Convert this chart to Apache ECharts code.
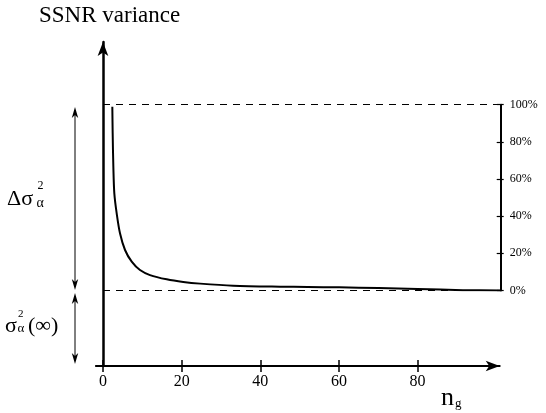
<!DOCTYPE html>
<html><head><meta charset="utf-8">
<script src="https://cdn.jsdelivr.net/npm/echarts@6/dist/echarts.min.js"></script>
<style>html,body{margin:0;padding:0;background:#fff}#c{width:546px;height:413px}</style>
</head><body><div id="c"></div>
<script>
// Data
const ngValues    = [2.37, 2.46, 2.63, 2.88, 3.48, 4.32, 5.6, 7.3, 9.4, 11.95, 16.2, 20.4, 24.7, 33.1, 45, 52, 60, 70, 80, 91.5, 101.1];
const ssnrPercent = [98.9, 84.6, 66.6, 52.3, 41.5, 30.8, 21.8, 15.5, 11.0, 8.3, 6.0, 4.6, 3.7, 2.6, 2.05, 1.9, 1.7, 1.3, 0.8, 0.2, 0];
const xTickValues = [0, 20, 40, 60, 80];
const percentTicks = [0, 20, 40, 60, 80, 100];
const referenceLevels = [100, 0];
const titleText = 'SSNR variance';

const FONT = 'Liberation Serif';
const chart = echarts.init(document.getElementById('c'), null, {renderer: 'canvas'});

const curve = ngValues.map((n, i) => [n, ssnrPercent[i]]);

function arrowHead(x, y, dir) {
  const L = 11, W = 3.2;
  return {type: 'polygon', shape: {points: [[x, y], [x - W, y - dir * L], [x, y - dir * (L - 3)], [x + W, y - dir * L]]},
          style: {fill: '#000'}, silent: true};
}

const option = {
  animation: false,
  backgroundColor: '#fff',
  grid: [
    {left: 95.9, right: 46.3, top: 42, bottom: 47},
    {left: 103, right: 45.3, top: 104.7, bottom: 122.5}
  ],
  xAxis: [
    {gridIndex: 0, type: 'value', min: -1.8, max: 100.88, position: 'bottom',
     axisLine: {onZero: false, lineStyle: {color: '#000', width: 2}, symbol: ['none', 'arrow'], symbolSize: [8, 14]},
     axisTick: {show: true, customValues: xTickValues, length: 6, lineStyle: {color: '#000', width: 1.5}},
     axisLabel: {customValues: xTickValues, color: '#000', fontFamily: FONT, fontSize: 16, margin: 8},
     splitLine: {show: false}},
    {gridIndex: 0, type: 'value', min: -1.8, max: 100.88, position: 'bottom',
     axisLine: {show: false, onZero: false},
     axisTick: {show: true, inside: true, customValues: xTickValues, length: 6, lineStyle: {color: '#000', width: 1.5}},
     axisLabel: {show: false}, splitLine: {show: false}},
    {gridIndex: 1, type: 'value', min: 0, max: 101.1, show: false, axisLine: {onZero: false}, splitLine: {show: false}}
  ],
  yAxis: [
    {gridIndex: 0, type: 'value', min: -40.6, max: 130,
     axisLine: {show: true, onZero: true, lineStyle: {color: '#000', width: 2.5}, symbol: ['none', 'arrow'], symbolSize: [8, 14]},
     axisTick: {show: false}, axisLabel: {show: false}, splitLine: {show: false}},
    {gridIndex: 1, type: 'value', min: 0, max: 100, interval: 20, position: 'right',
     axisLine: {show: true, onZero: false, lineStyle: {color: '#000', width: 2}},
     axisTick: {show: true, length: 3, lineStyle: {color: '#000', width: 1.2}},
     axisLabel: {color: '#000', fontFamily: FONT, fontSize: 12, margin: 9, formatter: v => v + '%'},
     splitLine: {show: false}},
    {gridIndex: 1, type: 'value', min: 0, max: 100, interval: 20, position: 'right',
     axisLine: {show: false, onZero: false},
     axisTick: {show: true, inside: true, length: 4, lineStyle: {color: '#000', width: 1.2}},
     axisLabel: {show: false}, splitLine: {show: false}}
  ],
  series: [{
    type: 'line', xAxisIndex: 2, yAxisIndex: 1, data: curve, smooth: 0.3,
    showSymbol: false, symbol: 'none', lineStyle: {color: '#000', width: 2}, silent: true,
    markLine: {silent: true, symbol: 'none', label: {show: false},
      lineStyle: {color: '#000', width: 1, type: [7, 6]},
      data: referenceLevels.map(v => ({yAxis: v}))}
  }],
  graphic: [
    {type: 'text', left: 39, top: 4, style: {text: titleText, font: '23px "' + FONT + '"', fill: '#000'}},
    {type: 'text', x: 441, y: 398, style: {text: 'n', font: '26px "' + FONT + '"', fill: '#000', verticalAlign: 'middle'}},
    {type: 'text', x: 455, y: 404, style: {text: 'g', font: '13px "' + FONT + '"', fill: '#000', verticalAlign: 'middle'}},
    {type: 'text', x: 7, y: 199.5, style: {text: 'Δσ', font: '22px "' + FONT + '"', fill: '#000', verticalAlign: 'middle'}},
    {type: 'text', x: 37.5, y: 186, style: {text: '2', font: '12px "' + FONT + '"', fill: '#000', verticalAlign: 'middle'}},
    {type: 'text', x: 36.5, y: 203, style: {text: 'α', font: '14px "' + FONT + '"', fill: '#000', verticalAlign: 'middle'}},
    {type: 'text', x: 5, y: 326, style: {text: 'σ', font: '22px "' + FONT + '"', fill: '#000', verticalAlign: 'middle'}},
    {type: 'text', x: 18, y: 314, style: {text: '2', font: '11px "' + FONT + '"', fill: '#000', verticalAlign: 'middle'}},
    {type: 'text', x: 17.5, y: 329, style: {text: 'α', font: '13px "' + FONT + '"', fill: '#000', verticalAlign: 'middle'}},
    {type: 'text', x: 28, y: 326, style: {text: '(∞)', font: '22px "' + FONT + '"', fill: '#000', verticalAlign: 'middle'}},
    {type: 'line', shape: {x1: 75, y1: 110, x2: 75, y2: 287}, style: {stroke: '#000', lineWidth: 1}, silent: true},
    arrowHead(75, 107, -1), arrowHead(75, 290, 1),
    {type: 'line', shape: {x1: 75, y1: 296, x2: 75, y2: 361}, style: {stroke: '#000', lineWidth: 1}, silent: true},
    arrowHead(75, 293, -1), arrowHead(75, 364, 1)
  ]
};
chart.setOption(option);
</script>
</body></html>
